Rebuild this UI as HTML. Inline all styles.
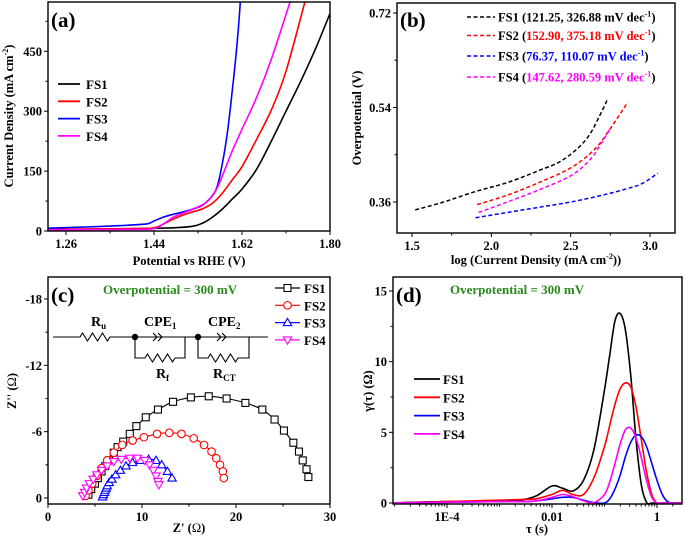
<!DOCTYPE html>
<html><head><meta charset="utf-8"><style>
html,body{margin:0;padding:0;background:#fff;}
svg{display:block;}
svg text{font-family:"Liberation Serif",serif;font-weight:bold;}
</style></head><body>
<svg id="fig" width="685" height="545" viewBox="0 0 685 545" xmlns="http://www.w3.org/2000/svg">
<g id="root" font-family="Liberation Serif, serif" font-weight="bold"></g>
</svg>
<script>
// ---------- DATA ----------
// Panel (a) LSV: potential (V) and current density (mA cm-2)
const aFS1V=[1.223,1.40,1.48,1.52,1.54,1.56,1.58,1.60,1.62,1.65,1.68,1.71,1.74,1.77,1.80];
const aFS1J=[4,6,8,12,20,35,55,80,105,155,225,300,375,455,545];
const aFS2V=[1.223,1.40,1.44,1.46,1.48,1.50,1.52,1.54,1.56,1.58,1.60,1.62,1.65,1.68,1.71,1.75];
const aFS2J=[4,6,8,18,30,40,48,56,70,95,128,161,230,303,400,580];
const aFS3V=[1.223,1.30,1.38,1.42,1.43,1.44,1.46,1.48,1.50,1.52,1.54,1.56,1.57,1.58,1.59,1.60,1.61,1.617];
const aFS3J=[7,10,14,17,19,25,35,42,48,55,65,90,115,170,245,350,470,580];
const aFS4V=[1.223,1.40,1.44,1.46,1.48,1.50,1.53,1.55,1.57,1.60,1.62,1.65,1.68,1.72];
const aFS4J=[3,4,6,18,35,45,60,75,110,200,255,335,430,580];
// Panel (b) Tafel: log j and overpotential (V)
const bFS1X=[1.52,1.7,1.9,2.1,2.3,2.45,2.6,2.7,2.73];
const bFS1Y=[0.345,0.36,0.38,0.397,0.42,0.44,0.48,0.535,0.555];
const bFS2X=[1.91,2.1,2.3,2.5,2.65,2.75,2.86];
const bFS2Y=[0.355,0.373,0.397,0.425,0.46,0.5,0.55];
const bFS3X=[1.9,2.1,2.3,2.5,2.7,2.85,2.95,3.05];
const bFS3Y=[0.33,0.34,0.35,0.36,0.373,0.385,0.395,0.415];
const bFS4X=[1.92,2.1,2.3,2.5,2.62,2.7,2.75];
const bFS4Y=[0.34,0.36,0.383,0.41,0.44,0.475,0.5];
// Panel (c) Nyquist: Z' and -Z'' (ohm)
const cFS1X=[4.3,4.6,5,5.3,5.7,6.1,6.5,7,7.4,8,8.7,9.4,10.4,11.7,13.3,15.2,17.1,19,21,22.8,24.1,25.1,26.1,26.7,27.1,27.5,27.7];
const cFS1Y=[0.3,0.8,1.3,1.8,2.4,2.9,3.4,4.1,4.6,5.1,5.8,6.5,7.3,8.0,8.7,9.1,9.2,9.0,8.6,8.0,7.1,6.1,5.0,4.2,3.4,2.6,1.9];
const cFS2X=[4,4.3,4.7,5.2,5.7,6.3,7,7.9,9,10.2,11.6,12.9,14.2,15.5,16.6,17.4,17.9,18.3,18.6,18.7];
const cFS2Y=[0.2,0.7,1.3,2,2.7,3.4,4.1,4.8,5.2,5.5,5.8,5.9,5.8,5.4,4.8,4.2,3.6,3.0,2.4,1.8];
const cFS3X=[5.8,5.9,6,6.1,6.2,6.3,6.5,6.8,7.2,7.7,8.3,9,9.8,10.7,11.5,12.1,12.7,13.2];
const cFS3Y=[0.1,0.3,0.5,0.7,0.9,1.1,1.4,1.7,2.1,2.5,2.9,3.2,3.4,3.5,3.4,3.0,2.4,1.8];
const cFS4X=[3.7,3.9,4.1,4.4,4.8,5.2,5.7,6.3,7,7.8,8.7,9.5,10.3,10.8,11.2,11.5,11.7,11.8];
const cFS4Y=[0.2,0.5,0.9,1.3,1.7,2.1,2.5,2.9,3.3,3.5,3.6,3.6,3.4,3.0,2.5,2.0,1.5,1.2];
// Panel (d) DRT: log10 tau and gamma (ohm)
const dLogTau=[-5.1,-4,-3,-2.6,-2.3,-2.0,-1.8,-1.6,-1.4,-1.2,-1.0,-0.9,-0.8,-0.7,-0.6,-0.5,-0.4,-0.3,-0.2,-0.1,0,0.1,0.2,0.3,0.5];
const dFS1=[0,0.1,0.1,0.2,0.5,1.2,1.05,0.85,1.6,3.8,8,10.5,12.9,13.4,12.2,9,4.5,1.3,0.05,0,0,0,0,0,0];
const dFS2=[0,0.1,0.2,0.25,0.3,0.6,0.9,0.6,0.6,1.8,4,5.5,7,8.1,8.5,8.2,6.8,4.5,2.2,0.6,0,0,0,0,0];
const dFS3=[0,0.05,0.1,0.1,0.15,0.3,0.4,0.4,0.2,0.02,0,0.3,1.0,2.0,3.3,4.3,4.8,4.7,4.0,2.8,1.6,0.6,0.1,0,0];
const dFS4=[0,0.05,0.1,0.1,0.15,0.4,0.6,0.45,0.15,0.02,0.6,1.5,2.8,4.2,5.2,5.3,4.6,3.2,1.6,0.4,0,0,0,0,0];
const aTicks=[1.26,1.44,1.62,1.80], aYTicks=[0,150,300,450];
const bTicks=[1.5,2.0,2.5,3.0], bYTicks=[0.36,0.54,0.72];
const cTicks=[0,10,20,30], cYTicks=[0,6,12,18];
const dTicks=[-4,-2,0], dTickLabels=['1E-4','0.01','1'], dYTicks=[0,5,10,15];

// ---------- HELPERS ----------
const NS='http://www.w3.org/2000/svg';
const root=document.getElementById('root');
function mk(tag,attrs,parent){const e=document.createElementNS(NS,tag);for(const k in attrs)e.setAttribute(k,attrs[k]);(parent||root).appendChild(e);return e;}
function lin(d0,d1,p0,p1){return v=>p0+(v-d0)*(p1-p0)/(d1-d0);}
function smooth(pts){let d='M'+pts[0][0].toFixed(1)+','+pts[0][1].toFixed(1);
 for(let i=0;i<pts.length-1;i++){const p0=pts[Math.max(0,i-1)],p1=pts[i],p2=pts[i+1],p3=pts[Math.min(pts.length-1,i+2)];
  const c1=[p1[0]+(p2[0]-p0[0])/6,p1[1]+(p2[1]-p0[1])/6],c2=[p2[0]-(p3[0]-p1[0])/6,p2[1]-(p3[1]-p1[1])/6];
  d+=' C'+c1[0].toFixed(1)+','+c1[1].toFixed(1)+' '+c2[0].toFixed(1)+','+c2[1].toFixed(1)+' '+p2[0].toFixed(1)+','+p2[1].toFixed(1);}
 return d;}
function txt(x,y,s,attrs,parent){const t=mk('text',Object.assign({x:x,y:y,'font-size':12},attrs||{}),parent);t.textContent=s;return t;}
function clip(id,x,y,w,h){const c=mk('clipPath',{id:id});mk('rect',{x:x,y:y,width:w,height:h},c);}

function frame(name,L,T,R,B){const r=mk('rect',{x:L,y:T,width:R-L,height:B-T,fill:'none',stroke:'#000','stroke-width':1.4});
 
 }
function xTicks(name,vals,labels,sx,B,minor){const g=mk('g',{});
 
 
 vals.forEach((v,i)=>{const x=sx(v);mk('line',{x1:x,x2:x,y1:B,y2:B+4,stroke:'#000','stroke-width':1},g);
  const t=txt(x,B+17,labels[i],{'text-anchor':'middle','font-size':12.5},g);
  
  });
 minor.forEach(v=>{const x=sx(v);mk('line',{x1:x,x2:x,y1:B,y2:B+2.5,stroke:'#000','stroke-width':1},g);});}
function yTicks(name,vals,labels,sy,L,minor){const g=mk('g',{});
 
 
 vals.forEach((v,i)=>{const y=sy(v);mk('line',{x1:L-4,x2:L,y1:y,y2:y,stroke:'#000','stroke-width':1},g);
  const t=txt(L-6,y+4.5,labels[i],{'text-anchor':'end','font-size':12.5},g);
  
  });
 minor.forEach(v=>{const y=sy(v);mk('line',{x1:L-2.5,x2:L,y1:y,y2:y,stroke:'#000','stroke-width':1},g);});}

const COL=['#000','#f00','#00f','#f0f'];
const NAMES=['FS1','FS2','FS3','FS4'];

// ---------- PANEL A ----------
{const L=48,R=330,T=2,B=231;const sx=lin(1.26,1.80,66,330),sy=lin(0,450,231,51.3);
 clip('ca',L,T,R-L,B-T);
 const A=[[aFS1V,aFS1J],[aFS2V,aFS2J],[aFS3V,aFS3J],[aFS4V,aFS4J]];
 A.forEach((s,i)=>{const p=mk('path',{d:smooth(s[0].map((v,k)=>[sx(v),sy(s[1][k])])),fill:'none',stroke:COL[i],'stroke-width':1.6,'clip-path':'url(#ca)'});
  
  });
 frame('panel-a',L,T,R,B);
 xTicks('panel-a',aTicks,aTicks.map(v=>v.toFixed(2)),sx,B,[1.35,1.53,1.71]);
 yTicks('panel-a',aYTicks,aYTicks.map(String),sy,L,[75,225,375,525]);
 const pl=txt(51,27,'(a)',{'font-size':21});
 const xt=txt(189,265,'Potential vs RHE (V)',{'text-anchor':'middle','font-size':12.5});
 const yt=mk('text',{transform:'translate(13,116) rotate(-90)','text-anchor':'middle','font-size':12.5});yt.innerHTML='Current Density (mA cm<tspan dy="-5" font-size="8">-2</tspan><tspan dy="5">)</tspan>';
 
 NAMES.forEach((n,i)=>{const y=84+i*17.3;const g=mk('g',{});
  
  
  mk('line',{x1:58,x2:80,y1:y,y2:y,stroke:COL[i],'stroke-width':1.8},g);txt(86,y+5,n,{'font-size':13},g);});
}

// ---------- PANEL B ----------
{const L=397,R=675,T=3,B=233;const sx=lin(1.5,3.0,412,650),sy=lin(0.36,0.72,202,13);
 const S=[[bFS1X,bFS1Y],[bFS2X,bFS2Y],[bFS3X,bFS3Y],[bFS4X,bFS4Y]];
 S.forEach((s,i)=>{const p=mk('path',{d:smooth(s[0].map((v,k)=>[sx(v),sy(s[1][k])])),fill:'none',stroke:COL[i],'stroke-width':1.5,'stroke-dasharray':'4,2.5'});
  
  });
 frame('panel-b',L,T,R,B);
 xTicks('panel-b',bTicks,bTicks.map(v=>v.toFixed(1)),sx,B,[1.75,2.25,2.75]);
 yTicks('panel-b',bYTicks,bYTicks.map(v=>v.toFixed(2)),sy,L,[0.45,0.63]);
 const pl=txt(400,27,'(b)',{'font-size':21});
 const xt=mk('text',{x:536,y:264,'text-anchor':'middle','font-size':12.5});xt.innerHTML='log (Current Density (mA cm<tspan dy="-5" font-size="8">-2</tspan><tspan dy="5">))</tspan>';
 
 const yt=txt(0,0,'Overpotential (V)',{transform:'translate(361,118) rotate(-90)','text-anchor':'middle','font-size':12.5});
 const vals=['121.25, 326.88 mV dec','152.90, 375.18 mV dec','76.37, 110.07 mV dec','147.62, 280.59 mV dec'];
 const ys=[17,35.5,56,77];
 NAMES.forEach((n,i)=>{const g=mk('g',{});
  
  
  mk('line',{x1:467,x2:495,y1:ys[i],y2:ys[i],stroke:COL[i],'stroke-width':1.5,'stroke-dasharray':'4,2.5'},g);
  const t=mk('text',{x:498,y:ys[i]+4.5,'font-size':12.5},g);
  t.innerHTML=n+' (<tspan fill="'+COL[i]+'">'+vals[i]+'<tspan dy="-5" font-size="8">-1</tspan></tspan><tspan dy="5">)</tspan>';});
}

// ---------- PANEL C ----------
{const L=48,R=330,T=277,B=504;const sx=lin(0,30,48,330),sy=lin(0,18,498,299);
 const S=[[cFS1X,cFS1Y],[cFS2X,cFS2Y],[cFS3X,cFS3Y],[cFS4X,cFS4Y]];
 function marker(i,x,y,g){const c=COL[i];
  if(i==0)mk('rect',{x:x-3.5,y:y-3.5,width:7,height:7,fill:'#fff',stroke:c,'stroke-width':1.1},g);
  else if(i==1)mk('circle',{cx:x,cy:y,r:3.8,fill:'#fff',stroke:c,'stroke-width':1.1},g);
  else if(i==2)mk('path',{d:`M${x},${y-4.2}L${x+4.2},${y+3}L${x-4.2},${y+3}Z`,fill:'#fff',stroke:c,'stroke-width':1.1},g);
  else mk('path',{d:`M${x},${y+4.2}L${x+4.2},${y-3}L${x-4.2},${y-3}Z`,fill:'#fff',stroke:c,'stroke-width':1.1},g);}
 S.forEach((s,i)=>{const g=mk('g',{});
  
  
  const pts=s[0].map((v,k)=>[sx(v),sy(s[1][k])]);
  mk('path',{d:smooth(pts),fill:'none',stroke:COL[i],'stroke-width':1.1},g);
  pts.forEach(p=>marker(i,p[0],p[1],g));});
 frame('panel-c',L,T,R,B);
 xTicks('panel-c',cTicks,cTicks.map(String),sx,B,[5,15,25]);
 yTicks('panel-c',cYTicks,cYTicks.map(v=>v==0?'0':'-'+v),sy,L,[3,9,15]);
 const pl=txt(51,302,'(c)',{'font-size':21});
 const op=txt(103,294,'Overpotential = 300 mV',{'font-size':13,fill:'#2a8a1e'});
 const xt=mk('text',{x:189,y:532,'text-anchor':'middle','font-size':12.5});xt.innerHTML='Z\' (<tspan font-weight="normal">Ω</tspan>)';
 
 const yt=mk('text',{transform:'translate(16,391) rotate(-90)','text-anchor':'middle','font-size':12.5});yt.innerHTML='Z\'\' (<tspan font-weight="normal">Ω</tspan>)';
 
 NAMES.forEach((n,i)=>{const y=288+i*17.3;const g=mk('g',{});
  
  
  mk('line',{x1:275,x2:300,y1:y,y2:y,stroke:COL[i],'stroke-width':1.2},g);marker(i,287.5,y,g);txt(304,y+5,n,{'font-size':13},g);});
 // circuit
 const ck=mk('g',{fill:'none',stroke:'#000','stroke-width':1.1});
 
 
 function zig(x0,x1,y){let d=`M${x0},${y}`;const n=6,w=(x1-x0)/n;for(let k=0;k<n;k++){d+=` L${x0+w*(k+0.5)},${y+(k%2?4:-4)}`;}d+=` L${x1},${y}`;return d;}
 mk('path',{d:`M53,337 L80,337 `+zig(80,110,337).replace('M','L')+` L268,337`},ck);
 mk('path',{d:`M135,337 L135,358 L145,358 `+zig(145,175,358).replace('M','L')+` L185,358 L185,337`},ck);
 mk('path',{d:`M198,337 L198,358 L208,358 `+zig(208,238,358).replace('M','L')+` L249,358 L249,337`},ck);
 mk('path',{d:'M153,333 L157,337 L153,341 M158,333 L162,337 L158,341'},ck);
 mk('path',{d:'M217,333 L221,337 L217,341 M222,333 L226,337 L222,341'},ck);
 mk('circle',{cx:135,cy:337,r:3.2,fill:'#000',stroke:'none'},ck);
 mk('circle',{cx:198,cy:337,r:3.2,fill:'#000',stroke:'none'},ck);
 const lab=mk('g',{'font-size':14});
 
 
 mk('text',{x:91,y:326},lab).innerHTML='R<tspan dy="3" font-size="9">u</tspan>';
 mk('text',{x:144,y:326},lab).innerHTML='CPE<tspan dy="3" font-size="9">1</tspan>';
 mk('text',{x:208,y:326},lab).innerHTML='CPE<tspan dy="3" font-size="9">2</tspan>';
 mk('text',{x:156,y:378},lab).innerHTML='R<tspan dy="3" font-size="9">f</tspan>';
 mk('text',{x:213,y:378},lab).innerHTML='R<tspan dy="3" font-size="9">CT</tspan>';
}

// ---------- PANEL D ----------
{const L=393,R=682,T=277,B=504;const sx=lin(-4,0,447,657),sy=lin(0,15,503,291);
 clip('cd',L,T,R-L,B-T);
 [dFS1,dFS2,dFS3,dFS4].forEach((s,i)=>{const p=mk('path',{d:smooth(dLogTau.map((v,k)=>[sx(v),sy(s[k])])),fill:'none',stroke:COL[i],'stroke-width':1.6,'clip-path':'url(#cd)'});
  
  });
 frame('panel-d',L,T,R,B);
 const minor=[];for(let d=-6;d<=0;d++)for(let m=2;m<=9;m++){const v=d+Math.log10(m);if(sx(v)>L&&sx(v)<R)minor.push(v);}
 [-5,-3,-1].forEach(v=>minor.push(v));
 xTicks('panel-d',dTicks,dTickLabels,sx,B,minor);
 yTicks('panel-d',dYTicks,dYTicks.map(String),sy,L,[2.5,7.5,12.5]);
 const pl=txt(396,302,'(d)',{'font-size':21});
 const op=txt(450,294,'Overpotential = 300 mV',{'font-size':13,fill:'#2a8a1e'});
 const xt=txt(537,533,'τ (s)',{'text-anchor':'middle','font-size':12.5});
 const yt=txt(0,0,'γ(τ) (Ω)',{transform:'translate(372,391) rotate(-90)','text-anchor':'middle','font-size':12.5,'font-weight':'normal'});
 NAMES.forEach((n,i)=>{const y=379+i*18.3;const g=mk('g',{});
  
  
  mk('line',{x1:414,x2:440,y1:y,y2:y,stroke:COL[i],'stroke-width':1.8},g);txt(443,y+5,n,{'font-size':13},g);});
}
</script>
</body></html>
